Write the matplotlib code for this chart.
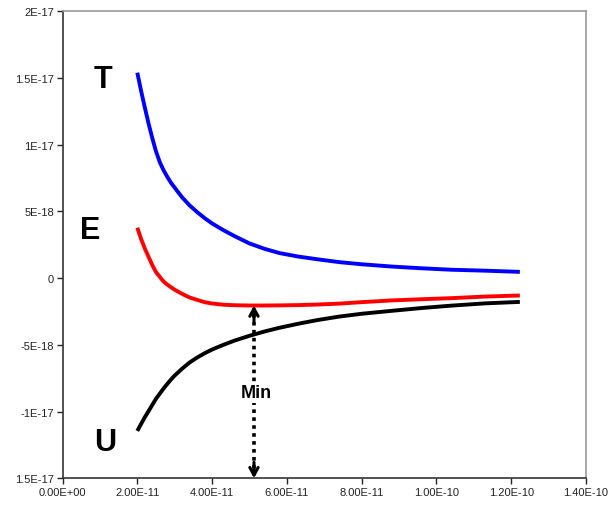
import numpy as np
import matplotlib
matplotlib.use("Agg")
import matplotlib.pyplot as plt

plt.rcParams['font.family'] = ['Liberation Sans', 'DejaVu Sans']

# separation r (units of 1e-11) and energies (units of 1e-18)
r = [2.0, 2.1, 2.2, 2.3, 2.4, 2.5, 2.6, 2.7, 2.8, 2.9, 3.0, 3.2, 3.4, 3.6, 3.8, 4.0,
     4.3, 4.6, 5.0, 5.4, 5.8, 6.3, 6.8, 7.4, 8.0, 8.8, 9.6, 10.4, 11.3, 12.23]
T = [15.4, 14.05, 12.8, 11.6, 10.5, 9.5, 8.7, 8.1, 7.6, 7.15, 6.78, 6.05, 5.45, 4.95, 4.5, 4.1,
     3.6, 3.15, 2.6, 2.2, 1.88, 1.62, 1.42, 1.2, 1.04, 0.87, 0.74, 0.63, 0.56, 0.47]
E = [3.78, 2.95, 2.22, 1.6, 0.98, 0.45, 0.1, -0.25, -0.48, -0.68, -0.87, -1.18, -1.45, -1.63, -1.8, -1.9,
     -1.99, -2.03, -2.05, -2.05, -2.04, -2.02, -1.98, -1.91, -1.8, -1.67, -1.58, -1.5, -1.38, -1.3]
U = [-11.45, -10.93, -10.43, -9.97, -9.5, -9.04, -8.66, -8.28, -7.93, -7.6, -7.3, -6.78, -6.32, -5.95, -5.63, -5.35,
     -5.0, -4.68, -4.32, -4.0, -3.72, -3.42, -3.15, -2.88, -2.67, -2.45, -2.24, -2.06, -1.89, -1.78]

xticks = [0, 2e-11, 4e-11, 6e-11, 8e-11, 1e-10, 1.2e-10, 1.4e-10]
xlabels = ['0.00E+00', '2.00E-11', '4.00E-11', '6.00E-11', '8.00E-11', '1.00E-10', '1.20E-10', '1.40E-10']
yticks = [2e-17, 1.5e-17, 1e-17, 5e-18, 0, -5e-18, -1e-17, -1.5e-17]
ylabels = ['2E-17', '1.5E-17', '1E-17', '5E-18', '0', '-5E-18', '-1E-17', '1.5E-17']

r_min = 5.12e-11
e_min = -2.05e-18

x = np.array(r) * 1e-11
fig = plt.figure(figsize=(6.13, 5.06), dpi=100)
ax = fig.add_axes([0.102, 0.0528, 0.854, 0.9229])

ax.plot(x, np.array(T) * 1e-18, color='#0000ff', lw=2.8, solid_capstyle='butt')
ax.plot(x, np.array(E) * 1e-18, color='#ff0000', lw=2.8, solid_capstyle='butt')
ax.plot(x, np.array(U) * 1e-18, color='black', lw=2.8, solid_capstyle='butt')

ax.set_xlim(0, 1.4e-10)
ax.set_ylim(-1.5e-17, 2e-17)
ax.set_xticks(xticks)
ax.set_xticklabels(xlabels)
ax.set_yticks(yticks)
ax.set_yticklabels(ylabels)
ax.tick_params(direction='out', length=4, width=1, labelsize=8, colors='#222222', pad=2)

for s in ['left', 'bottom']:
    ax.spines[s].set_color('#333333')
    ax.spines[s].set_linewidth(1.2)
for s in ['top', 'right']:
    ax.spines[s].set_color('#999999')
    ax.spines[s].set_linewidth(1.2)

# curve labels
lab = dict(fontsize=22, fontweight='bold', ha='center', va='center')
ax.text(1.08e-11, 14.9e-18, 'T', **lab)
ax.text(0.74e-11, 3.6e-18, 'E', **lab)
ax.text(1.14e-11, -12.3e-18, 'U', **lab)

# dotted double arrow marking the minimum
ybot = -1.5e-17
ax.plot([r_min, r_min], [e_min - 0.6e-18, ybot + 0.6e-18], color='black',
        lw=2.6, linestyle=(0, (1, 1.2)))
hp = dict(arrowstyle='->,head_length=0.55,head_width=0.3', lw=2.2, color='black',
          shrinkA=0, shrinkB=0)
ax.annotate('', xy=(r_min, e_min), xytext=(r_min, e_min - 1.2e-18), arrowprops=hp)
ax.annotate('', xy=(r_min, ybot), xytext=(r_min, ybot + 1.2e-18), arrowprops=hp)
ax.text(r_min + 0.05e-11, -8.6e-18, 'Min', fontsize=13, fontweight='bold',
        ha='center', va='center',
        bbox=dict(facecolor='white', edgecolor='none', pad=1))

fig.savefig('out.png', dpi=100)
